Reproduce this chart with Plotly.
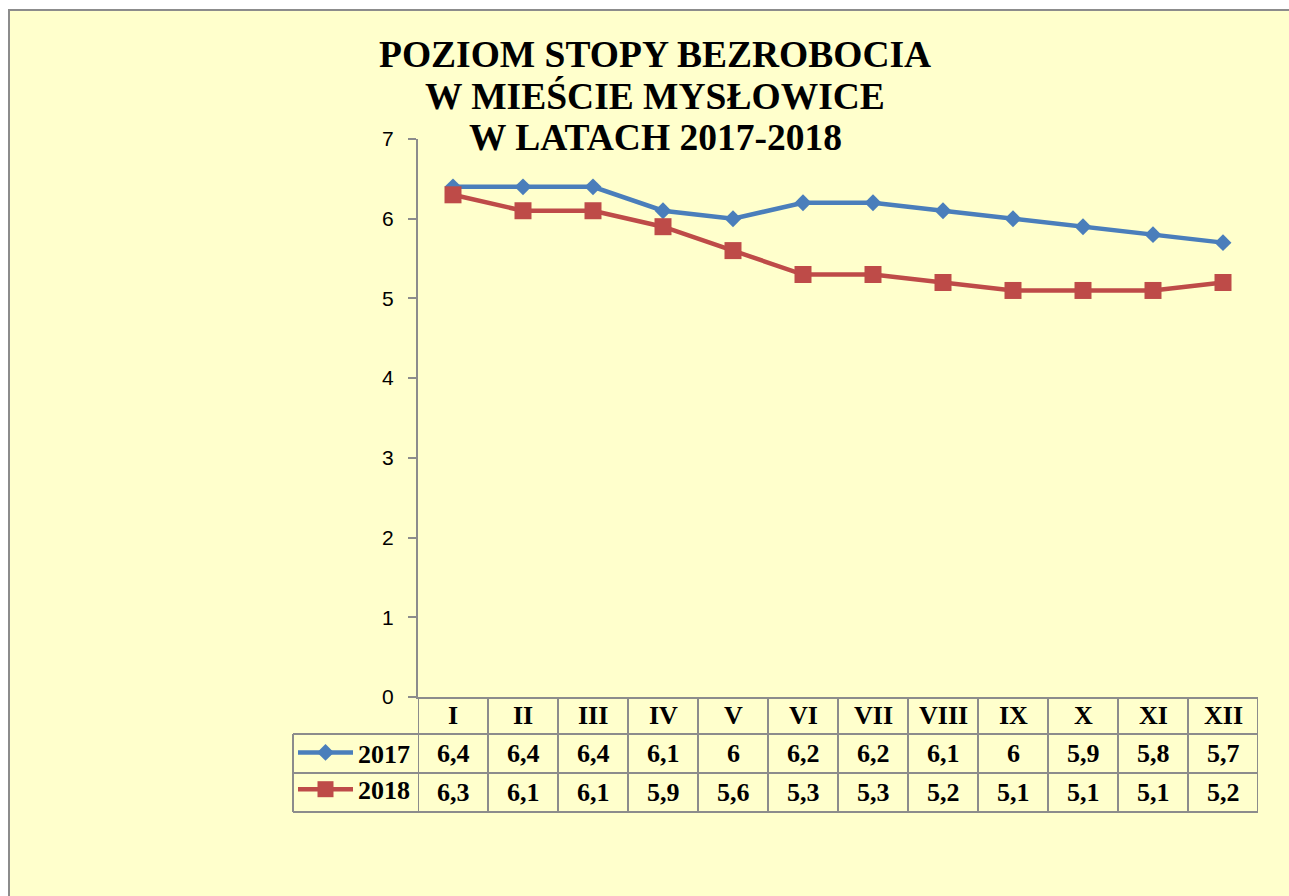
import plotly.graph_objects as go

months = ["I", "II", "III", "IV", "V", "VI", "VII", "VIII", "IX", "X", "XI", "XII"]
series_names = ["2017", "2018"]
values_2017 = [6.4, 6.4, 6.4, 6.1, 6.0, 6.2, 6.2, 6.1, 6.0, 5.9, 5.8, 5.7]
values_2018 = [6.3, 6.1, 6.1, 5.9, 5.6, 5.3, 5.3, 5.2, 5.1, 5.1, 5.1, 5.2]
y_ticks = [0, 1, 2, 3, 4, 5, 6, 7]
title_lines = ["POZIOM STOPY BEZROBOCIA", "W MIEŚCIE MYSŁOWICE", "W LATACH 2017-2018"]

BG = "#FFFFCC"
GRID = "#8C8C8C"
BLUE = "#4A7EBB"
RED = "#BE4B48"
SERIF = "Liberation Serif, Times New Roman, serif"
SANS = "Liberation Sans, Arial, sans-serif"

# figure covers the whole window (body margin removed below)
W, H = 1289, 896
ML, MR, MT, MB = 418, 31, 139, 199
PH = H - MT - MB

def py(fig_px):
    return (H - MB - fig_px) / PH

def px(fig_px):
    return (fig_px - ML) / (W - ML - MR)

x_idx = list(range(len(months)))

fig = go.Figure()
fig.add_trace(go.Scatter(
    x=x_idx, y=values_2017, name="<b>" + series_names[0] + "</b>", mode="lines+markers",
    line=dict(color=BLUE, width=4.5),
    marker=dict(symbol="diamond", size=13, color=BLUE),
    legendgroup="a",
))
fig.add_trace(go.Scatter(
    x=x_idx, y=values_2018, name="<b>" + series_names[1] + "</b>", mode="lines+markers",
    line=dict(color=RED, width=4.5),
    marker=dict(symbol="square", size=17, color=RED),
    legendgroup="b",
))

row_top = H - MB
row1 = row_top + 37
row2 = row1 + 39
row3 = row2 + 39
leg_left = px(293)

shapes = []
line_style = dict(color=GRID, width=2)
# yellow chart area with grey border (white page margin top/left)
shapes.append(dict(type="rect", xref="paper", yref="paper",
                   x0=px(9), x1=px(W + 20), y0=py(H + 20), y1=py(10),
                   line=line_style, fillcolor=BG, layer="below"))
for yy in [row1, row2, row3]:
    shapes.append(dict(type="line", xref="paper", yref="paper",
                       x0=leg_left, x1=1, y0=py(yy), y1=py(yy), line=line_style))
for i in range(len(months) + 1):
    shapes.append(dict(type="line", xref="x", yref="paper",
                       x0=i - 0.5, x1=i - 0.5, y0=py(row_top), y1=py(row3), line=line_style))
shapes.append(dict(type="line", xref="paper", yref="paper",
                   x0=leg_left, x1=leg_left, y0=py(row1), y1=py(row3), line=line_style))

annotations = []
cell_font = dict(family=SERIF, size=26, color="black", weight="bold")
for i, m in enumerate(months):
    annotations.append(dict(x=i, y=py((row_top + row1) / 2), xref="x", yref="paper",
                            text=m, showarrow=False, font=cell_font, yanchor="middle"))
    annotations.append(dict(x=i, y=py((row1 + row2) / 2), xref="x", yref="paper",
                            text=("%g" % values_2017[i]).replace(".", ","), showarrow=False,
                            font=cell_font, yanchor="middle"))
    annotations.append(dict(x=i, y=py((row2 + row3) / 2), xref="x", yref="paper",
                            text=("%g" % values_2018[i]).replace(".", ","), showarrow=False,
                            font=cell_font, yanchor="middle"))

title_font = dict(family=SERIF, size=37.5, color="black", weight="bold")
for k, t in enumerate(title_lines):
    annotations.append(dict(x=px(655), y=py(54 + 42 * k), xref="paper", yref="paper",
                            text=t, showarrow=False, font=title_font,
                            xanchor="center", yanchor="middle"))

fig.update_layout(
    width=W, height=H,
    margin=dict(l=ML, r=MR, t=MT, b=MB, pad=0),
    paper_bgcolor="white", plot_bgcolor=BG,
    shapes=shapes, annotations=annotations,
    showlegend=True,
    legend=dict(x=leg_left, y=py(row1 - 5), xanchor="left", yanchor="top",
                xref="paper", yref="paper",
                font=dict(family=SERIF, size=26, color="black"),
                bgcolor="rgba(0,0,0,0)", borderwidth=0,
                tracegroupgap=4, itemwidth=55, traceorder="normal"),
    xaxis=dict(range=[-0.5, len(months) - 0.5], showticklabels=False, ticks="",
               showgrid=False, zeroline=False, showline=True, linecolor=GRID, linewidth=2,
               fixedrange=True),
    yaxis=dict(range=[0, 7], tickvals=y_ticks, ticks="outside", ticklen=8, tickwidth=2,
               tickcolor=GRID, showgrid=False, zeroline=False, showline=True,
               linecolor=GRID, linewidth=2, ticklabelstandoff=10,
               tickfont=dict(family=SANS, size=21, color="black"), fixedrange=True),
)

fig.write_html("out.html", config={"displayModeBar": False},
               post_script="document.body.style.margin='0';document.body.style.overflow='hidden';")
